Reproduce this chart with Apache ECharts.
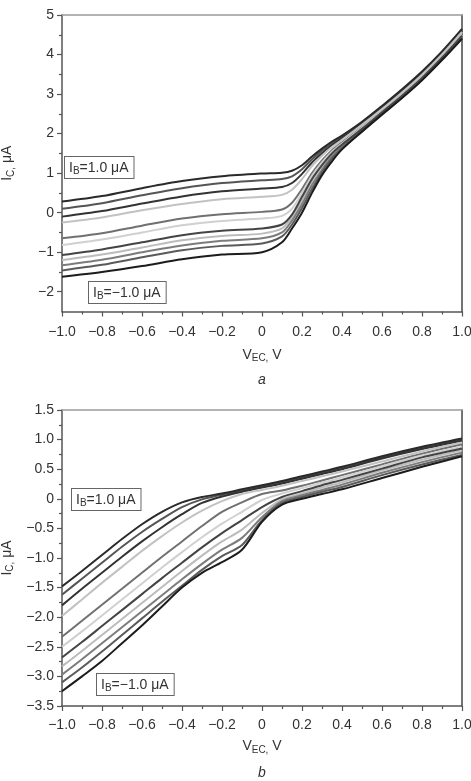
<!DOCTYPE html>
<html>
<head>
<meta charset="utf-8">
<script src="https://cdn.jsdelivr.net/npm/echarts@6/dist/echarts.min.js"></script>
<style>
  html, body { margin: 0; padding: 0; background: #fff; }
  #chart { width: 471px; height: 781px; }
</style>
</head>
<body>
<div id="chart"></div>
<script>
// panel a: V_EC grid and I_C curves, from I_B = 1.0 uA (top) down to -1.0 uA
const vTop = [-1, -0.8, -0.6, -0.4, -0.2, 0, 0.1, 0.15, 0.2, 0.25, 0.3, 0.35, 0.4, 0.5, 0.6, 0.7, 0.8, 0.9, 1.0]
const topCurves = [
  [0.28, 0.42, 0.62, 0.8, 0.92, 0.99, 1.01, 1.06, 1.2, 1.42, 1.62, 1.8, 1.95, 2.3, 2.7, 3.12, 3.57, 4.08, 4.65],
  [0.1, 0.24, 0.44, 0.62, 0.75, 0.82, 0.85, 0.92, 1.1, 1.35, 1.57, 1.76, 1.92, 2.28, 2.68, 3.1, 3.55, 4.06, 4.63],
  [-0.1, 0.04, 0.23, 0.41, 0.54, 0.61, 0.65, 0.75, 0.98, 1.27, 1.5, 1.71, 1.88, 2.25, 2.65, 3.07, 3.52, 4.03, 4.6],
  [-0.25, -0.12, 0.06, 0.22, 0.34, 0.4, 0.45, 0.58, 0.85, 1.18, 1.44, 1.66, 1.84, 2.22, 2.62, 3.04, 3.49, 4.0, 4.57],
  [-0.65, -0.52, -0.33, -0.15, -0.04, 0.02, 0.08, 0.25, 0.6, 1.0, 1.32, 1.58, 1.78, 2.17, 2.58, 3.0, 3.45, 3.96, 4.52],
  [-0.82, -0.68, -0.5, -0.32, -0.21, -0.15, -0.08, 0.1, 0.5, 0.93, 1.27, 1.54, 1.75, 2.15, 2.56, 2.98, 3.43, 3.94, 4.5],
  [-1.07, -0.93, -0.75, -0.57, -0.46, -0.4, -0.3, -0.05, 0.4, 0.85, 1.2, 1.5, 1.72, 2.12, 2.54, 2.96, 3.41, 3.92, 4.48],
  [-1.2, -1.06, -0.88, -0.7, -0.59, -0.53, -0.4, -0.12, 0.32, 0.78, 1.15, 1.46, 1.69, 2.1, 2.52, 2.94, 3.39, 3.9, 4.46],
  [-1.33, -1.19, -1.0, -0.83, -0.71, -0.65, -0.5, -0.2, 0.22, 0.7, 1.08, 1.42, 1.66, 2.08, 2.5, 2.92, 3.37, 3.88, 4.44],
  [-1.46, -1.32, -1.13, -0.95, -0.84, -0.78, -0.6, -0.3, 0.12, 0.6, 1.02, 1.37, 1.63, 2.06, 2.49, 2.91, 3.36, 3.87, 4.42],
  [-1.62, -1.5, -1.35, -1.18, -1.06, -1.0, -0.75, -0.4, 0.0, 0.5, 0.95, 1.3, 1.6, 2.05, 2.48, 2.9, 3.35, 3.86, 4.4]
]

// panel b
const vBot = [-1, -0.9, -0.8, -0.7, -0.6, -0.5, -0.4, -0.3, -0.2, -0.1, 0, 0.1, 0.2, 0.3, 0.4, 0.6, 0.8, 1.0]
const botCurves = [
  [-1.48, -1.22, -0.95, -0.68, -0.43, -0.22, -0.06, 0.03, 0.09, 0.16, 0.23, 0.3, 0.38, 0.46, 0.54, 0.72, 0.88, 1.02],
  [-1.62, -1.35, -1.08, -0.81, -0.56, -0.34, -0.14, -0.01, 0.07, 0.14, 0.21, 0.28, 0.36, 0.44, 0.52, 0.7, 0.86, 1.0],
  [-1.8, -1.52, -1.25, -0.98, -0.72, -0.48, -0.26, -0.07, 0.04, 0.12, 0.19, 0.26, 0.34, 0.42, 0.5, 0.68, 0.84, 0.98],
  [-1.98, -1.7, -1.42, -1.15, -0.88, -0.63, -0.4, -0.2, -0.04, 0.08, 0.15, 0.22, 0.3, 0.38, 0.46, 0.63, 0.8, 0.95],
  [-2.33, -2.06, -1.79, -1.52, -1.25, -0.98, -0.72, -0.46, -0.22, -0.06, 0.08, 0.14, 0.22, 0.31, 0.4, 0.58, 0.76, 0.92],
  [-2.5, -2.24, -1.97, -1.7, -1.43, -1.16, -0.9, -0.65, -0.42, -0.22, -0.02, 0.09, 0.18, 0.27, 0.36, 0.55, 0.73, 0.88],
  [-2.68, -2.42, -2.15, -1.88, -1.61, -1.34, -1.08, -0.82, -0.58, -0.36, -0.14, 0.03, 0.13, 0.23, 0.32, 0.51, 0.7, 0.85],
  [-2.83, -2.57, -2.3, -2.03, -1.76, -1.49, -1.22, -0.96, -0.72, -0.52, -0.24, -0.01, 0.09, 0.19, 0.28, 0.48, 0.66, 0.82],
  [-2.97, -2.71, -2.44, -2.17, -1.9, -1.63, -1.36, -1.1, -0.86, -0.66, -0.31, -0.04, 0.06, 0.15, 0.24, 0.44, 0.62, 0.78],
  [-3.1, -2.85, -2.58, -2.3, -2.02, -1.74, -1.47, -1.2, -0.97, -0.78, -0.36, -0.07, 0.03, 0.12, 0.2, 0.4, 0.58, 0.74],
  [-3.25, -3.0, -2.74, -2.44, -2.14, -1.82, -1.5, -1.25, -1.07, -0.86, -0.39, -0.1, 0.0, 0.08, 0.16, 0.35, 0.54, 0.72]
]

const topYTicks = [-2, -1, 0, 1, 2, 3, 4, 5]
const topYMinor = [-1.5, -0.5, 0.5, 1.5, 2.5, 3.5, 4.5]

const colors = ['#2a2a2a', '#555', '#333', '#c2c2c2', '#707070', '#d0d0d0', '#444', '#bcbcbc', '#7c7c7c', '#5a5a5a', '#1c1c1c']

const FONT = '"Liberation Sans", Arial, Helvetica, sans-serif'
const minus = (s) => s.replace('-', '\u2212')
const fmt1 = (v) => (Math.abs(v) < 1e-9 ? '0' : minus(v.toFixed(1)))
const fmt0 = (v) => (Math.abs(v) < 1e-9 ? '0' : minus(String(Math.round(v))))

const axisLine = { show: true, onZero: false, lineStyle: { color: '#555', width: 1.5 } }
const tick = { show: true, inside: false, length: 5, lineStyle: { color: '#555', width: 1.2 } }
const minor = { show: true, splitNumber: 2, length: 3, lineStyle: { color: '#555', width: 1.2 } }
const label = { color: '#333', fontSize: 14, fontFamily: FONT }
const nameRich = {
  m: { fontSize: 14, fontFamily: FONT, color: '#333' },
  s: { fontSize: 10, fontFamily: FONT, color: '#333', padding: [7, 0, 0, 0] }
}

const xMain = (grid, margin, gap) => ({
  type: 'value', gridIndex: grid, min: -1, max: 1, interval: 0.2,
  axisLine, axisTick: tick, minorTick: minor, splitLine: { show: false },
  axisLabel: { ...label, margin, formatter: fmt1 },
  name: '{m|V}{s|EC,}{m| V}', nameLocation: 'middle', nameGap: gap,
  nameTextStyle: { rich: nameRich }
})
const xTopBorder = (grid) => ({
  type: 'value', gridIndex: grid, position: 'top', min: -1, max: 1,
  axisLine: { show: true, onZero: false, lineStyle: { color: '#9a9a9a', width: 1.5 } },
  axisTick: { show: false }, axisLabel: { show: false }, splitLine: { show: false }
})
const yRightBorder = (grid, min, max) => ({
  type: 'value', gridIndex: grid, position: 'right', min, max,
  axisLine: { show: true, onZero: false, lineStyle: { color: '#444', width: 1.5 } },
  axisTick: { show: false }, axisLabel: { show: false }, splitLine: { show: false }
})
const yName = { name: '{m|I}{s|C,}{m| μA}', nameLocation: 'middle', nameRotate: 90, nameGap: 46, nameTextStyle: { rich: nameRich } }

const mkSeries = (vs, curves, xi, yi) => curves.map((c, k) => ({
  type: 'line', xAxisIndex: xi, yAxisIndex: yi,
  data: vs.map((v, i) => [v, c[i]]),
  symbol: 'none', smooth: 0.3,
  lineStyle: { color: colors[k], width: 2 },
  z: 2 + (k % 3 === 0 || k === 10 ? 1 : 0)
}))

const boxText = (x, y, val) => ({
  type: 'text', left: x, top: y, z: 100,
  style: {
    text: '{m|I}{s|B}{m|=' + val + ' μA}',
    rich: {
      m: { fontSize: 14, fontFamily: FONT, fill: '#333' },
      s: { fontSize: 10, fontFamily: FONT, fill: '#333', padding: [6, 0, 0, 0] }
    },
    backgroundColor: '#fff', borderColor: '#666', borderWidth: 1, padding: [3, 5, 2, 4]
  }
})

const chart = echarts.init(document.getElementById('chart'))
chart.setOption({
  animation: false,
  backgroundColor: '#fff',
  grid: [
    { left: 62, top: 15, width: 400, height: 296.5, outerBoundsMode: 'none' },
    { left: 62, top: 410, width: 400, height: 296, outerBoundsMode: 'none' }
  ],
  xAxis: [xMain(0, 14, 35), xTopBorder(0), xMain(1, 12, 32), xTopBorder(1)],
  yAxis: [
    {
      type: 'value', gridIndex: 0, position: 'left', min: -2.5, max: 5, interval: 0.5,
      axisLine, splitLine: { show: false },
      axisTick: { ...tick, customValues: topYTicks },
      axisLabel: { ...label, margin: 8, customValues: topYTicks, formatter: fmt0 },
      ...yName
    },
    {
      type: 'value', gridIndex: 0, position: 'left', min: -2.5, max: 5, interval: 0.5,
      axisLine: { show: false, onZero: false }, splitLine: { show: false }, axisLabel: { show: false },
      axisTick: { show: true, length: 3, customValues: topYMinor, lineStyle: { color: '#555', width: 1.2 } }
    },
    yRightBorder(0, -2.5, 5),
    {
      type: 'value', gridIndex: 1, position: 'left', min: -3.5, max: 1.5, interval: 0.5,
      axisLine, axisTick: tick, minorTick: minor, splitLine: { show: false },
      axisLabel: { ...label, margin: 8, formatter: fmt1 },
      ...yName
    },
    yRightBorder(1, -3.5, 1.5)
  ],
  series: [...mkSeries(vTop, topCurves, 0, 0), ...mkSeries(vBot, botCurves, 2, 3)],
  graphic: [
    boxText(64, 156, '1.0'),
    boxText(88, 281, '\u22121.0'),
    boxText(71, 488, '1.0'),
    boxText(96, 673, '\u22121.0'),
    { type: 'text', left: 258, top: 373, style: { text: 'a', font: 'italic 14px ' + FONT, fill: '#333' } },
    { type: 'text', left: 258, top: 766, style: { text: 'b', font: 'italic 14px ' + FONT, fill: '#333' } }
  ]
})
</script>
</body>
</html>
